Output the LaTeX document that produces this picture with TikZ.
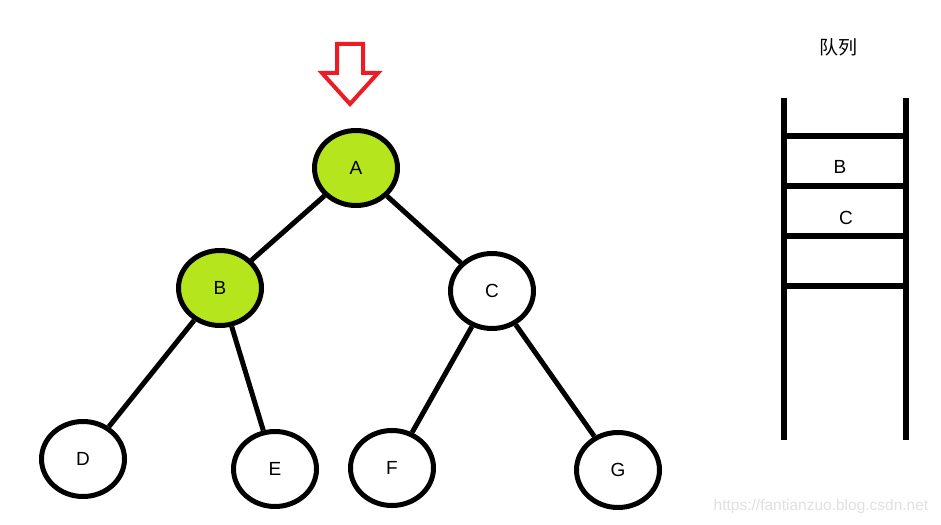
\documentclass[tikz,border=0pt]{standalone}
\usepackage{fontspec}
\setmainfont{Liberation Sans}
\newfontfamily\cjk{Noto Sans CJK SC}
\usetikzlibrary{shapes.geometric}
\definecolor{paintlime}{HTML}{B5E61D}
\definecolor{paintred}{HTML}{ED1C24}
\begin{document}
\begin{tikzpicture}[x=1pt,y=-1pt,
  tnode/.style={ellipse,draw=black,line width=5pt,minimum width=83pt,minimum height=75pt,inner sep=0pt,fill=white,font=\fontsize{19}{21}\selectfont},
  visited/.style={tnode,fill=paintlime},
  edge/.style={line width=5pt},
  qline/.style={line width=6pt},
  qlabel/.style={font=\fontsize{19}{21}\selectfont}]
\useasboundingbox (0,0) rectangle (941,524);
% tree nodes
\node[visited] (A) at (356,168) {A};
\node[visited] (B) at (220,288) {B};
\node[tnode] (C) at (492,291) {C};
\node[tnode] (D) at (83,459) {D};
\node[tnode] (E) at (275,469) {E};
\node[tnode] (F) at (392,468) {F};
\node[tnode] (G) at (618,470) {G};
% edges
\draw[edge] (A) -- (B);
\draw[edge] (A) -- (C);
\draw[edge] (B) -- (D);
\draw[edge] (B) -- (E);
\draw[edge] (C) -- (F);
\draw[edge] (C) -- (G);
% red arrow
\draw[paintred,line width=4pt,fill=white,line join=miter]
  (337,44) -- (363,44) -- (363,73) -- (378,73) -- (350,104) -- (322,73) -- (337,73) -- cycle;
% queue
\coordinate (qlt) at (784,98);
\coordinate (qlb) at (784,440);
\coordinate (qrt) at (906,98);
\coordinate (qrb) at (906,440);
\draw[qline] (qlt) -- (qlb);
\draw[qline] (qrt) -- (qrb);
\draw[qline] (784,136) -- (906,136);
\draw[qline] (784,186) -- (906,186);
\draw[qline] (784,236) -- (906,236);
\draw[qline] (784,286) -- (906,286);
\node[qlabel] (qB) at (840,167) {B};
\node[qlabel] (qC) at (846,218) {C};
\node[font=\cjk\fontsize{19}{22}\selectfont] (title) at (838,47) {队列};
% watermark
\node[text=black!12,font=\fontsize{15.5}{17}\selectfont] (wm) at (821,506) {https://fantianzuo.blog.csdn.net};
\end{tikzpicture}
\end{document}
